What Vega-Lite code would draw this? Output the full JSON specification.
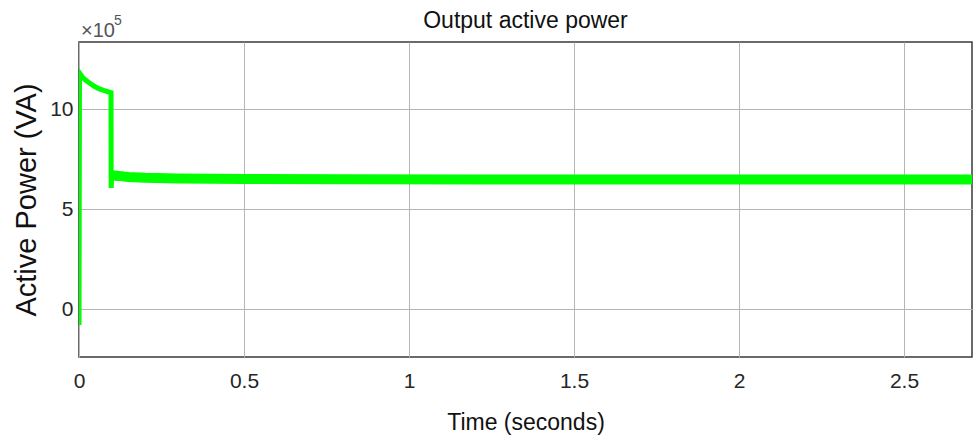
{
  "$schema": "https://vega.github.io/schema/vega-lite/v6.json",
  "width": 893,
  "height": 315,
  "autosize": {"type": "none"},
  "padding": {"left": 79, "top": 42, "right": 4, "bottom": 84},
  "background": "white",
  "config": {
    "font": "Liberation Sans",
    "view": {"stroke": "#3a3a3a", "strokeWidth": 1.5},
    "axis": {
      "domain": false,
      "ticks": false,
      "grid": true,
      "gridColor": "#b5b5b5",
      "gridWidth": 1,
      "labelFont": "Liberation Sans",
      "labelFontSize": 21,
      "labelColor": "#262626",
      "titleFont": "Liberation Sans",
      "titleFontWeight": "normal",
      "titleColor": "#111111"
    }
  },
  "title": {
    "text": "Output active power",
    "fontSize": 23,
    "fontWeight": "normal",
    "font": "Liberation Sans",
    "color": "#111111",
    "offset": -19
  },
  "data": {
    "values": [
      {"t": 0.0, "p": -0.8},
      {"t": 0.0015, "p": 11.8},
      {"t": 0.01, "p": 11.6},
      {"t": 0.02, "p": 11.45},
      {"t": 0.03, "p": 11.32},
      {"t": 0.04, "p": 11.2},
      {"t": 0.05, "p": 11.1},
      {"t": 0.06, "p": 11.02},
      {"t": 0.07, "p": 10.96},
      {"t": 0.08, "p": 10.9},
      {"t": 0.09, "p": 10.85},
      {"t": 0.097, "p": 10.82},
      {"t": 0.0975, "p": 6.05},
      {"t": 0.099, "p": 6.6},
      {"t": 0.105, "p": 6.68},
      {"t": 0.15, "p": 6.6},
      {"t": 0.2, "p": 6.56},
      {"t": 0.3, "p": 6.53},
      {"t": 0.5, "p": 6.5},
      {"t": 0.8, "p": 6.49},
      {"t": 1.2, "p": 6.48},
      {"t": 1.6, "p": 6.47},
      {"t": 2.0, "p": 6.47},
      {"t": 2.4, "p": 6.47},
      {"t": 2.706, "p": 6.47}
    ]
  },
  "encoding": {
    "x": {
      "field": "t",
      "type": "quantitative",
      "scale": {"domain": [0, 2.706], "nice": false, "zero": false},
      "axis": {
        "values": [0, 0.5, 1, 1.5, 2, 2.5],
        "format": "~g",
        "title": "Time (seconds)",
        "titleFontSize": 23,
        "labelPadding": 13,
        "titlePadding": 20,
        "labelFlush": false
      }
    },
    "y": {
      "field": "p",
      "type": "quantitative",
      "scale": {"domain": [-2.4, 13.35], "nice": false, "zero": false},
      "axis": {
        "values": [0, 5, 10],
        "title": "Active Power (VA)",
        "titleFontSize": 29,
        "labelPadding": 6,
        "titlePadding": 8
      }
    }
  },
  "layer": [
    {
      "mark": {"type": "line", "color": "#00ff00", "strokeWidth": 5, "clip": true}
    },
    {
      "transform": [{"filter": "datum.t >= 0.099"}],
      "mark": {"type": "line", "color": "#00ff00", "strokeWidth": 10, "clip": true}
    },
    {
      "transform": [{"filter": "datum.t == 0"}],
      "mark": {"type": "text", "align": "left", "baseline": "alphabetic", "fontSize": 20, "fontWeight": "normal", "fill": "#555555", "dx": 2, "dy": -5, "font": "Liberation Sans"},
      "encoding": {
        "x": {"datum": 0},
        "y": {"datum": 13.35},
        "text": {"value": "×10"}
      }
    },
    {
      "transform": [{"filter": "datum.t == 0"}],
      "mark": {"type": "text", "align": "left", "baseline": "alphabetic", "fontSize": 14, "fontWeight": "normal", "fill": "#555555", "dx": 35, "dy": -17, "font": "Liberation Sans"},
      "encoding": {
        "x": {"datum": 0},
        "y": {"datum": 13.35},
        "text": {"value": "5"}
      }
    }
  ]
}
